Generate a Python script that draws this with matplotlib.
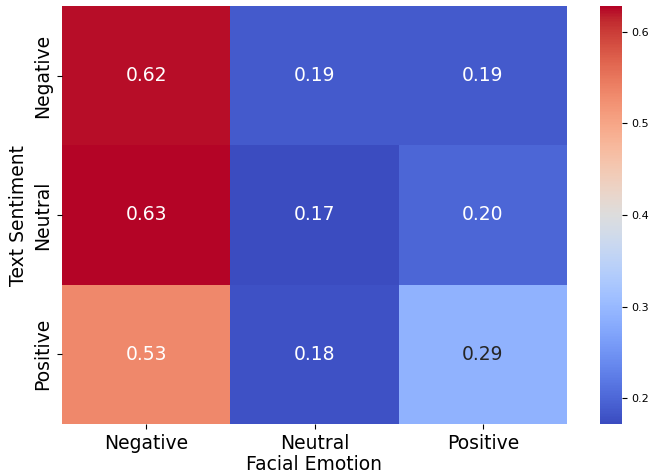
import matplotlib
matplotlib.use("Agg")
import matplotlib.pyplot as plt
import numpy as np
import seaborn as sns

text_labels = ["Negative", "Neutral", "Positive"]
face_labels = ["Negative", "Neutral", "Positive"]
# row-normalised share of facial emotion per text sentiment
neg_row = [0.624, 0.188, 0.188]
neu_row = [0.628, 0.172, 0.200]
pos_row = [0.532, 0.178, 0.290]

matrix = np.array([neg_row, neu_row, pos_row])

fig = plt.figure(figsize=(6.52, 4.74), dpi=100)
ax = fig.add_axes([62 / 652, 50 / 474, 505 / 652, 418 / 474])
cax = fig.add_axes([600 / 652, 50 / 474, 22 / 652, 418 / 474])

sns.heatmap(matrix, annot=True, fmt=".2f", cmap="coolwarm",
            xticklabels=face_labels, yticklabels=text_labels,
            annot_kws={"size": 13.5}, ax=ax, cbar_ax=cax)

ax.set_xlabel("Facial Emotion", fontsize=13.5, labelpad=2)
ax.set_ylabel("Text Sentiment", fontsize=13.5)
ax.tick_params(axis="x", labelsize=13.5)
ax.tick_params(axis="y", labelsize=13.5)
plt.setp(ax.get_yticklabels(), rotation=90, va="center")
cax.tick_params(labelsize=8)
cax.set_frame_on(False)

fig.savefig("out.png", dpi=100)
